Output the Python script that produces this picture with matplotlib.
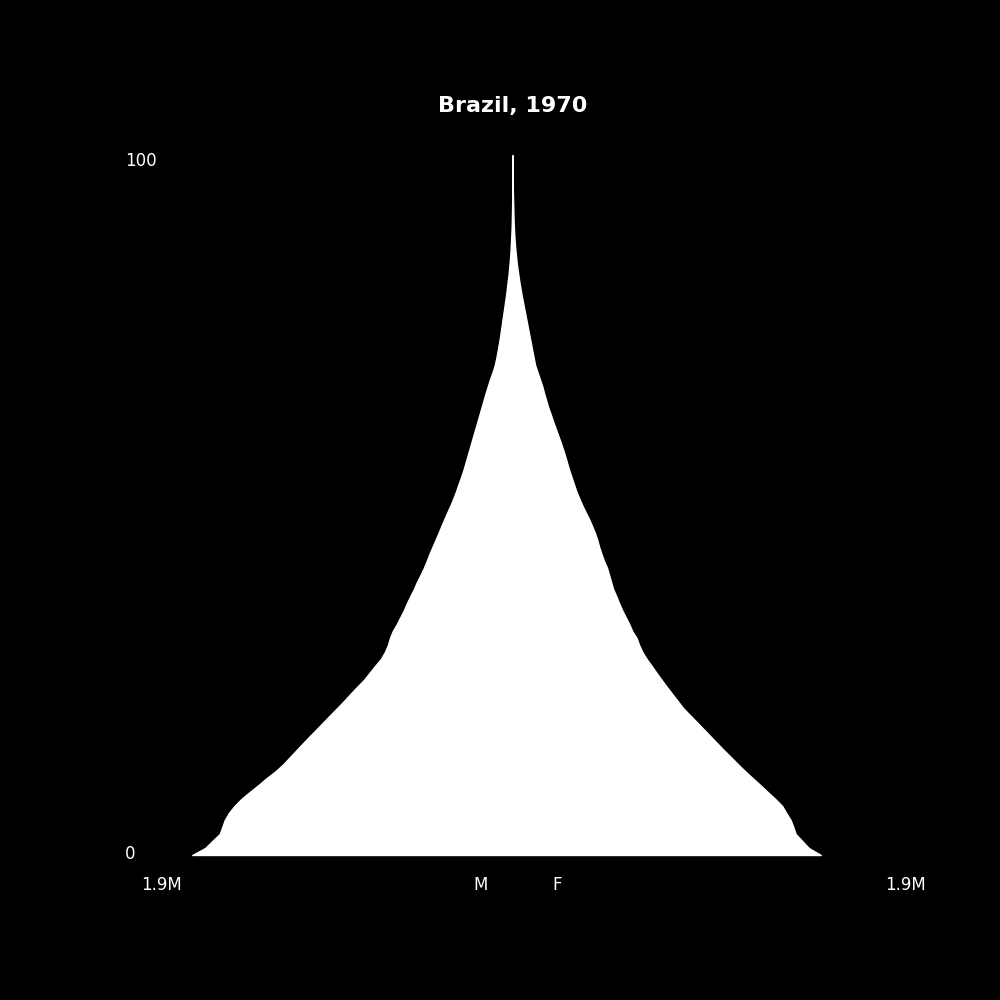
import matplotlib
matplotlib.use("Agg")
import matplotlib.pyplot as plt
import numpy as np

title = "Brazil, 1970"
ages = list(range(0, 101))
# population in thousands, single-year ages 0..100
male = [1900, 1823, 1781, 1737, 1722, 1707, 1683, 1650, 1609, 1559,
        1507, 1458, 1404, 1359, 1320, 1281, 1242, 1202, 1161, 1121,
        1081, 1040, 1000, 962, 923, 882, 849, 816, 781, 757,
        739, 727, 710, 686, 665, 644, 626, 606, 585, 567,
        546, 526, 509, 493, 475, 457, 439, 422, 404, 386,
        367, 350, 334, 320, 305, 291, 279, 267, 255, 243,
        231, 219, 207, 195, 183, 171, 159, 146, 133, 118,
        105, 96, 88, 81, 74, 68, 62, 56, 50, 44,
        38, 33, 28, 23, 19, 15.5, 12.5, 10, 8, 6,
        4.5, 3.5, 2.7, 2, 1.5, 1, 0.8, 0.6, 0.4, 0.3, 0.2]
female = [1829, 1758, 1719, 1680, 1666, 1650, 1624, 1600, 1559, 1514,
          1470, 1424, 1379, 1336, 1295, 1253, 1213, 1173, 1133, 1093,
          1052, 1012, 980, 948, 916, 885, 855, 826, 796, 770,
          751, 736, 710, 692, 671, 650, 632, 615, 597, 585,
          573, 561, 543, 528, 514, 503, 489, 472, 454, 433,
          413, 395, 378, 364, 350, 336, 324, 312, 299, 285,
          270, 255, 240, 226, 211, 199, 187, 176, 162, 148,
          134, 126, 118, 110, 102, 94, 86, 78, 70, 62,
          54, 47, 40, 34, 28, 23, 19, 15, 12, 9.5,
          7.5, 6, 5, 4, 3, 2, 1.5, 1, 0.7, 0.5, 0.3]
scale_label = "1.9M"
sex_labels = ["M", "F"]
age_labels = ["0", "100"]

plt.rcParams['font.family'] = ['DejaVu Sans']
fig = plt.figure(figsize=(10, 10), dpi=100, facecolor='black')
ax = fig.add_subplot(111)
ax.set_facecolor('black')

a = np.array(ages)
m = np.array(male)
f = np.array(female)
ax.fill_betweenx(a, -m, f, facecolor='white', edgecolor='white', linewidth=1)

lim = max(m.max(), f.max()) * 1.21
ax.set_xlim(-lim, lim)
ax.set_ylim(-5, 105)
for s in ax.spines.values():
    s.set_visible(False)
ax.set_xticks([])
ax.set_yticks([])

ax.set_title(title, fontsize=16, fontweight='bold', color='white')

tr = ax.transAxes
ax.text(0.0468, 0.0, scale_label, transform=tr, ha='center', va='baseline', color='white', fontsize=12)
ax.text(1.0065, 0.0, scale_label, transform=tr, ha='center', va='baseline', color='white', fontsize=12)
ax.text(0.4594, 0.0, sex_labels[0], transform=tr, ha='center', va='baseline', color='white', fontsize=12)
ax.text(0.5574, 0.0, sex_labels[1], transform=tr, ha='center', va='baseline', color='white', fontsize=12)
ax.text(0.0, 0.0403, age_labels[0], transform=tr, ha='left', va='baseline', color='white', fontsize=12)
ax.text(0.0, 0.9403, age_labels[1], transform=tr, ha='left', va='baseline', color='white', fontsize=12)

fig.savefig("out.png", dpi=100, facecolor='black')
